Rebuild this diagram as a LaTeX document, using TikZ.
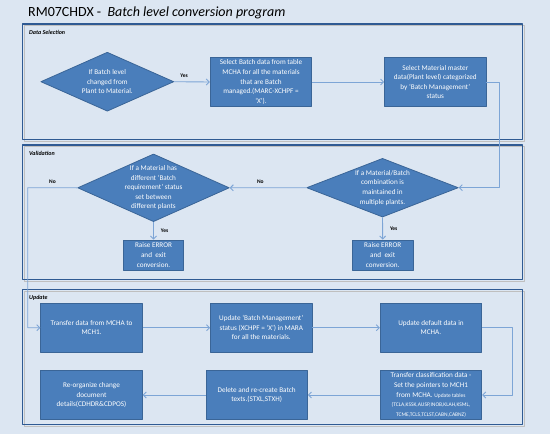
\documentclass[tikz,border=0pt]{standalone}
\usepackage{fontspec}
\setmainfont{Carlito}
\usetikzlibrary{shapes.geometric,arrows.meta}
\definecolor{pagebg}{HTML}{DCE6F2}
\definecolor{boxfill}{HTML}{4A7EBB}
\definecolor{boxline}{HTML}{3A6597}
\definecolor{panelline}{HTML}{2F5A93}
\definecolor{flowline}{HTML}{7DA5D6}
\newcommand\tbl{\fontsize{5.5}{7.5}\selectfont}
\begin{document}
\begin{tikzpicture}[x=1pt,y=-1pt,line join=round,
  proc/.style={draw=boxline,fill=boxfill,line width=0.8pt,minimum width=101.5pt,minimum height=48.7pt,
    inner sep=1pt,text=white,align=center,font=\fontsize{7.2}{9.6}\selectfont},
  err/.style={proc,minimum width=60.5pt,minimum height=30pt},
  dec/.style={diamond,draw=boxline,fill=boxfill,line width=0.8pt,inner sep=0pt},
  dectext/.style={text=white,align=center,font=\fontsize{7.2}{9.6}\selectfont,inner sep=0pt},
  tag/.style={font=\fontsize{6}{7}\selectfont\bfseries\itshape,anchor=west,inner sep=0pt},
  yn/.style={font=\fontsize{5.5}{6}\selectfont\bfseries,inner sep=0pt},
  flow/.style={draw=flowline,line width=0.9pt,-{Straight Barb[length=3pt,width=6pt]}}]
  \fill[pagebg] (0,0) rectangle (550,434);
  \useasboundingbox (0,0) rectangle (550,434);
  % title
  \node[anchor=west,inner sep=0pt,font=\fontsize{14}{16}\selectfont] (title) at (28,13)
    {RM07CHDX -\ \ \textit{Batch level conversion program}};
  % panels
  \foreach \t/\b/\n [count=\i] in {24/139.3/Data Selection,145/279.3/Validation,289.3/424.3/Update}{
    \draw[black!25,line width=1.2pt] (24.5,\t+1.8) rectangle (524.5,\b+1.8);
    \draw[panelline,line width=1.3pt] (22.7,\t) rectangle (522.7,\b);
    \node[tag] (lab\i) at (29,\t+8.5) {\n};
  }
  % data selection
  \node[dec,minimum width=133pt,minimum height=59pt] (d1) at (107.3,81.7) {};
  \node[dectext] (d1t) at (d1) {If Batch level\\changed from\\Plant to Material.};
  \node[proc] (s1) at (261,82) {Select Batch data from table\\MCHA for all the materials\\that are Batch\\managed.(MARC-XCHPF =\\‘X’).};
  \node[proc] (s2) at (435.3,82) {Select Material master\\data(Plant level) categorized\\by ‘Batch Management’\\status};
  % validation
  \node[dec,minimum width=151.6pt,minimum height=67.7pt] (v1) at (153.5,187.8) {};
  \node[dectext] (v1t) at (v1) {If a Material has\\different ‘Batch\\requirement’ status\\set between\\different plants};
  \node[dec,minimum width=151.6pt,minimum height=58.7pt] (v2) at (382.5,187.7) {};
  \node[dectext] (v2t) at (v2) {If a Material/Batch\\combination is\\maintained in\\multiple plants.};
  \node[err] (e1) at (153.5,255) {Raise ERROR\\and~ exit\\conversion.};
  \node[err] (e2) at (382.7,255) {Raise ERROR\\and~ exit\\conversion.};
  % update
  \node[proc] (u1) at (91.5,327.7) {Transfer data from MCHA to\\MCH1.};
  \node[proc] (u2) at (261.3,327.7) {Update ‘Batch Management’\\status (XCHPF = ‘X’) in MARA\\for all the materials.};
  \node[proc] (u3) at (431,327.7) {Update default data in\\MCHA.};
  \node[proc] (u4) at (431,395) {Transfer classification data -\\Set the pointers to MCH1\\from MCHA. {\tbl Update tables}\\{\tbl (TCLA,KSSK,AUSP,INOB,KLAH,KSML,}\\{\tbl TCME,TCLS,TCLST,CABN,CABNZ)}};
  \node[proc] (u5) at (256.7,395) {Delete and re-create Batch\\texts.(STXL,STXH)};
  \node[proc] (u6) at (91.5,395) {Re-organize change\\document\\details(CDHDR\&CDPOS)};
  % turning points
  \coordinate (c1) at (499.3,82);
  \coordinate (c2) at (27.7,187.7);
  \coordinate (c3) at (27.7,327.7);
  \coordinate (c4) at (512.7,327.7);
  % connectors
  \draw[flow] (d1.east) -- node[yn,pos=0.28,above=4pt] (yes1) {Yes} (s1.west);
  \draw[flow] (s1.east) -- (s2.west);
  \draw[flow] (s2.east) -- (c1) |- (v2.east);
  \draw[flow] (v2.west) -- node[yn,pos=0.6,above=4pt] (no2) {No} (v1.east);
  \draw[flow] (v1.west) -- node[yn,above=4pt] (no1) {No} (c2) -- (c3) -- (u1.west);
  \draw[flow] (v1.south) -- node[yn,right=7pt] (yes2) {Yes} (e1.north);
  \draw[flow] (v2.south) -- node[yn,right=7pt] (yes3) {Yes} (e2.north);
  \draw[flow] (u1) -- (u2);
  \draw[flow] (u2) -- (u3);
  \draw[flow] (u3.east) -- (c4) |- (u4.east);
  \draw[flow] (u4) -- (u5);
  \draw[flow] (u5) -- (u6);
\end{tikzpicture}
\end{document}
